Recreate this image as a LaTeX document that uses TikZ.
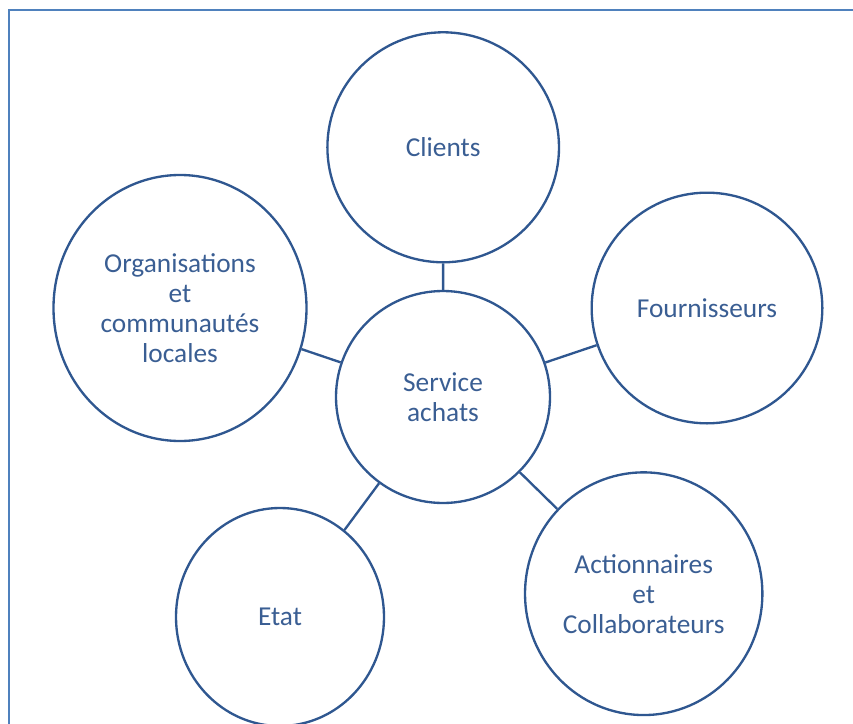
\documentclass[tikz,border=0pt]{standalone}
\usepackage{fontspec}
\setmainfont{Carlito}
\usetikzlibrary{shapes.geometric}
\definecolor{circ}{HTML}{2F5790}
\definecolor{txt}{HTML}{3A5E93}
\definecolor{framec}{HTML}{4F81BD}
\begin{document}
\begin{tikzpicture}[x=0.75pt,y=-0.75pt,
  bubble/.style={ellipse, draw=circ, line width=1.75pt, inner sep=0pt, align=center,
    text=txt, font=\fontsize{20.5}{22.5}\selectfont},
  link/.style={draw=circ, line width=1.75pt}]
\useasboundingbox (0,0) rectangle (853,724);
\draw[framec, line width=1.9pt] (9.2,724) -- (9.2,10) -- (853,10);
\node[bubble, minimum width=173.7pt, minimum height=172.5pt] (cl) at (443.2,147.3) {Clients};
\node[bubble, minimum width=160.5pt, minimum height=159pt] (sa) at (443,397) {Service\\achats};
\node[bubble, minimum width=189.75pt, minimum height=199.5pt] (org) at (180,308) {Organisations\\et\\communautés\\locales};
\node[bubble, minimum width=173pt, minimum height=173pt] (fo) at (707,308) {Fournisseurs};
\node[bubble, minimum width=156pt, minimum height=163.5pt] (et) at (280,617) {Etat};
\node[bubble, minimum width=178pt, minimum height=182pt] (ac) at (643.7,593.7) {Actionnaires\\et\\Collaborateurs};
\draw[link] (cl) -- (sa);
\draw[link] (org) -- (sa);
\draw[link] (fo) -- (sa);
\draw[link] (et) -- (sa);
\draw[link] (ac) -- (sa);
\end{tikzpicture}
\end{document}
